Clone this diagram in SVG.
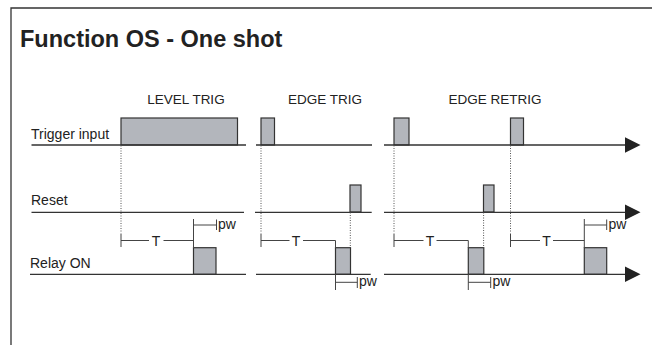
<svg xmlns="http://www.w3.org/2000/svg" width="652" height="345" viewBox="0 0 652 345">
<defs>
<style>
.ln{stroke:#333;stroke-width:1.3;fill:none}
.dim{stroke:#444;stroke-width:1;fill:none}
.dot{stroke:#555;stroke-width:1;stroke-dasharray:1 1.5;fill:none}
.pulse{fill:#b3b6bc;stroke:#333;stroke-width:1.2}
.lbl{font-family:"Liberation Sans",Arial,sans-serif;font-size:14px;fill:#222}
.hdr{font-family:"Liberation Sans",Arial,sans-serif;font-size:13.5px;fill:#222}
.title{font-family:"Liberation Sans",Arial,sans-serif;font-size:23.5px;font-weight:bold;fill:#222}
.arr{fill:#222}
</style>
</defs>
<rect width="652" height="345" fill="#fff"/>
<path class="ln" d="M11,345 V8 H652"/>
<text class="title" x="20" y="47">Function OS - One shot</text>

<g id="headers">
<text class="hdr" x="186" y="104" text-anchor="middle">LEVEL TRIG</text>
<text class="hdr" x="325" y="104" text-anchor="middle">EDGE TRIG</text>
<text class="hdr" x="495" y="104" text-anchor="middle">EDGE RETRIG</text>
</g>

<g id="labels">
<text class="lbl" x="31" y="139">Trigger input</text>
<text class="lbl" x="31" y="205">Reset</text>
<text class="lbl" x="30" y="268">Relay ON</text>
</g>

<g id="pulses">
<rect class="pulse" x="121" y="118" width="116.5" height="27"/>
<rect class="pulse" x="261" y="118" width="13.5" height="27"/>
<rect class="pulse" x="394" y="118" width="15" height="27"/>
<rect class="pulse" x="510.5" y="118" width="13" height="27"/>
<rect class="pulse" x="350" y="185" width="11" height="27"/>
<rect class="pulse" x="483.5" y="185" width="10.5" height="27"/>
<rect class="pulse" x="193.5" y="247.7" width="22.5" height="26.6"/>
<rect class="pulse" x="335.5" y="247.7" width="15" height="26.6"/>
<rect class="pulse" x="468.3" y="247.7" width="15.5" height="26.6"/>
<rect class="pulse" x="584.3" y="247.7" width="22.4" height="26.6"/>
</g>

<g id="connectors">
<path class="ln" d="M31.5,145 H246 M256,145 H372 M384,145 H627"/>
<path class="ln" d="M31.5,212.3 H244 M255,212.3 H371.7 M384,212.3 H627"/>
<path class="ln" d="M30,274.3 H246 M256,274.3 H370.7 M384,274.3 H627"/>
<path class="arr" d="M625,137.3 L640.5,145 L625,152.7 Z"/>
<path class="arr" d="M625,204.6 L640.5,212.3 L625,220 Z"/>
<path class="arr" d="M625,266.6 L640.5,274.3 L625,282 Z"/>

<path class="dot" d="M121,145.5 V233 M261,145.5 V233 M394,145.5 V233 M510.5,145.5 V233 M350.3,212.5 V247.5 M483.6,212.5 V247.5"/>

<g id="dims">
<path class="dim" d="M121,233.5 V247 M121,240.5 H149 M163.5,240.5 H193.5 M193.5,219 V247.7 M193.5,225 H216.5 M216.5,219.5 V230"/>
<path class="dim" d="M261,233.5 V247 M261,240.5 H289.5 M303,240.5 H335.5 V247.7 M335.5,274.3 V290 M335.5,282.3 H357.3 M357.3,277 V288"/>
<path class="dim" d="M394,233.5 V247 M394,240.5 H423.5 M436.5,240.5 H468.3 V247.7 M468.3,274.3 V290 M468.3,282.3 H490.7 M490.7,277 V288"/>
<path class="dim" d="M510.5,233.5 V247 M510.5,240.5 H540 M553,240.5 H584.3 M584.3,219 V247.7 M584.3,225 H606.7 M606.7,219.5 V230"/>
<text class="lbl" x="156" y="245.5" text-anchor="middle">T</text>
<text class="lbl" x="296" y="245.5" text-anchor="middle">T</text>
<text class="lbl" x="430" y="245.5" text-anchor="middle">T</text>
<text class="lbl" x="546.5" y="245.5" text-anchor="middle">T</text>
<text class="lbl" x="218" y="229">pw</text>
<text class="lbl" x="359" y="286">pw</text>
<text class="lbl" x="492.5" y="286">pw</text>
<text class="lbl" x="608.5" y="229">pw</text>
</g>
</g>
</svg>
